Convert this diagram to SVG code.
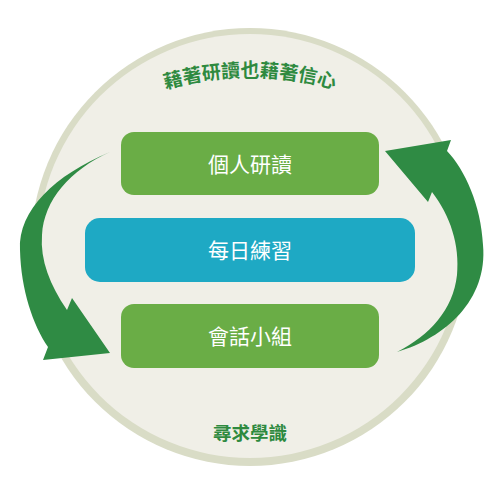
<svg xmlns="http://www.w3.org/2000/svg" width="500" height="500" viewBox="0 0 500 500">
<defs>
<style>
.box-g{fill:#6aad46}
.box-b{fill:#1ea9c4}
.lbl{font-family:"Noto Sans CJK TC","Noto Sans CJK SC",sans-serif;font-size:21px;fill:#ffffff;text-anchor:middle}
.cap{font-family:"Noto Sans CJK TC","Noto Sans CJK SC",sans-serif;font-weight:bold;fill:#2e8a3f;text-anchor:middle}
.arrow{fill:#2f8b44}
</style>
<path id="topArc" d="M -50,377 A 300 300 0 0 1 550,377"/>
</defs>
<g id="background">
<circle cx="250" cy="247" r="219" fill="#d9dcc6"/>
<circle cx="250" cy="246" r="212" fill="#f0efe7"/>
</g>
<g id="captions">
<text class="cap" font-size="19"><textPath href="#topArc" startOffset="50%">藉著研讀也藉著信心</textPath></text>
<text class="cap" x="250" y="440" font-size="18.5">尋求學識</text>
</g>
<g id="connectors">
<path class="arrow" d="M110,152 C55,175 18,210 20,250 C21,290 33,325 48,347 L43,360 L110,353 L72,298 L67,310 C50,285 40,260 42,235 C44,200 70,170 110,152 Z"/>
<path class="arrow" d="M397,352 C445,338 488,300 483,245 C481,205 465,170 447,151 L451,140 L385,151 L428,202 L432,192 C450,215 460,245 457,275 C453,310 430,335 397,352 Z"/>
</g>
<g id="node-study">
<rect class="box-g" x="121" y="132" width="258" height="63" rx="13"/>
<text class="lbl" x="250" y="172">個人研讀</text>
</g>
<g id="node-daily">
<rect class="box-b" x="85" y="218" width="330" height="64" rx="15"/>
<text class="lbl" x="250" y="257.5">每日練習</text>
</g>
<g id="node-group">
<rect class="box-g" x="121" y="304" width="258" height="64" rx="13"/>
<text class="lbl" x="250" y="344">會話小組</text>
</g>
</svg>
